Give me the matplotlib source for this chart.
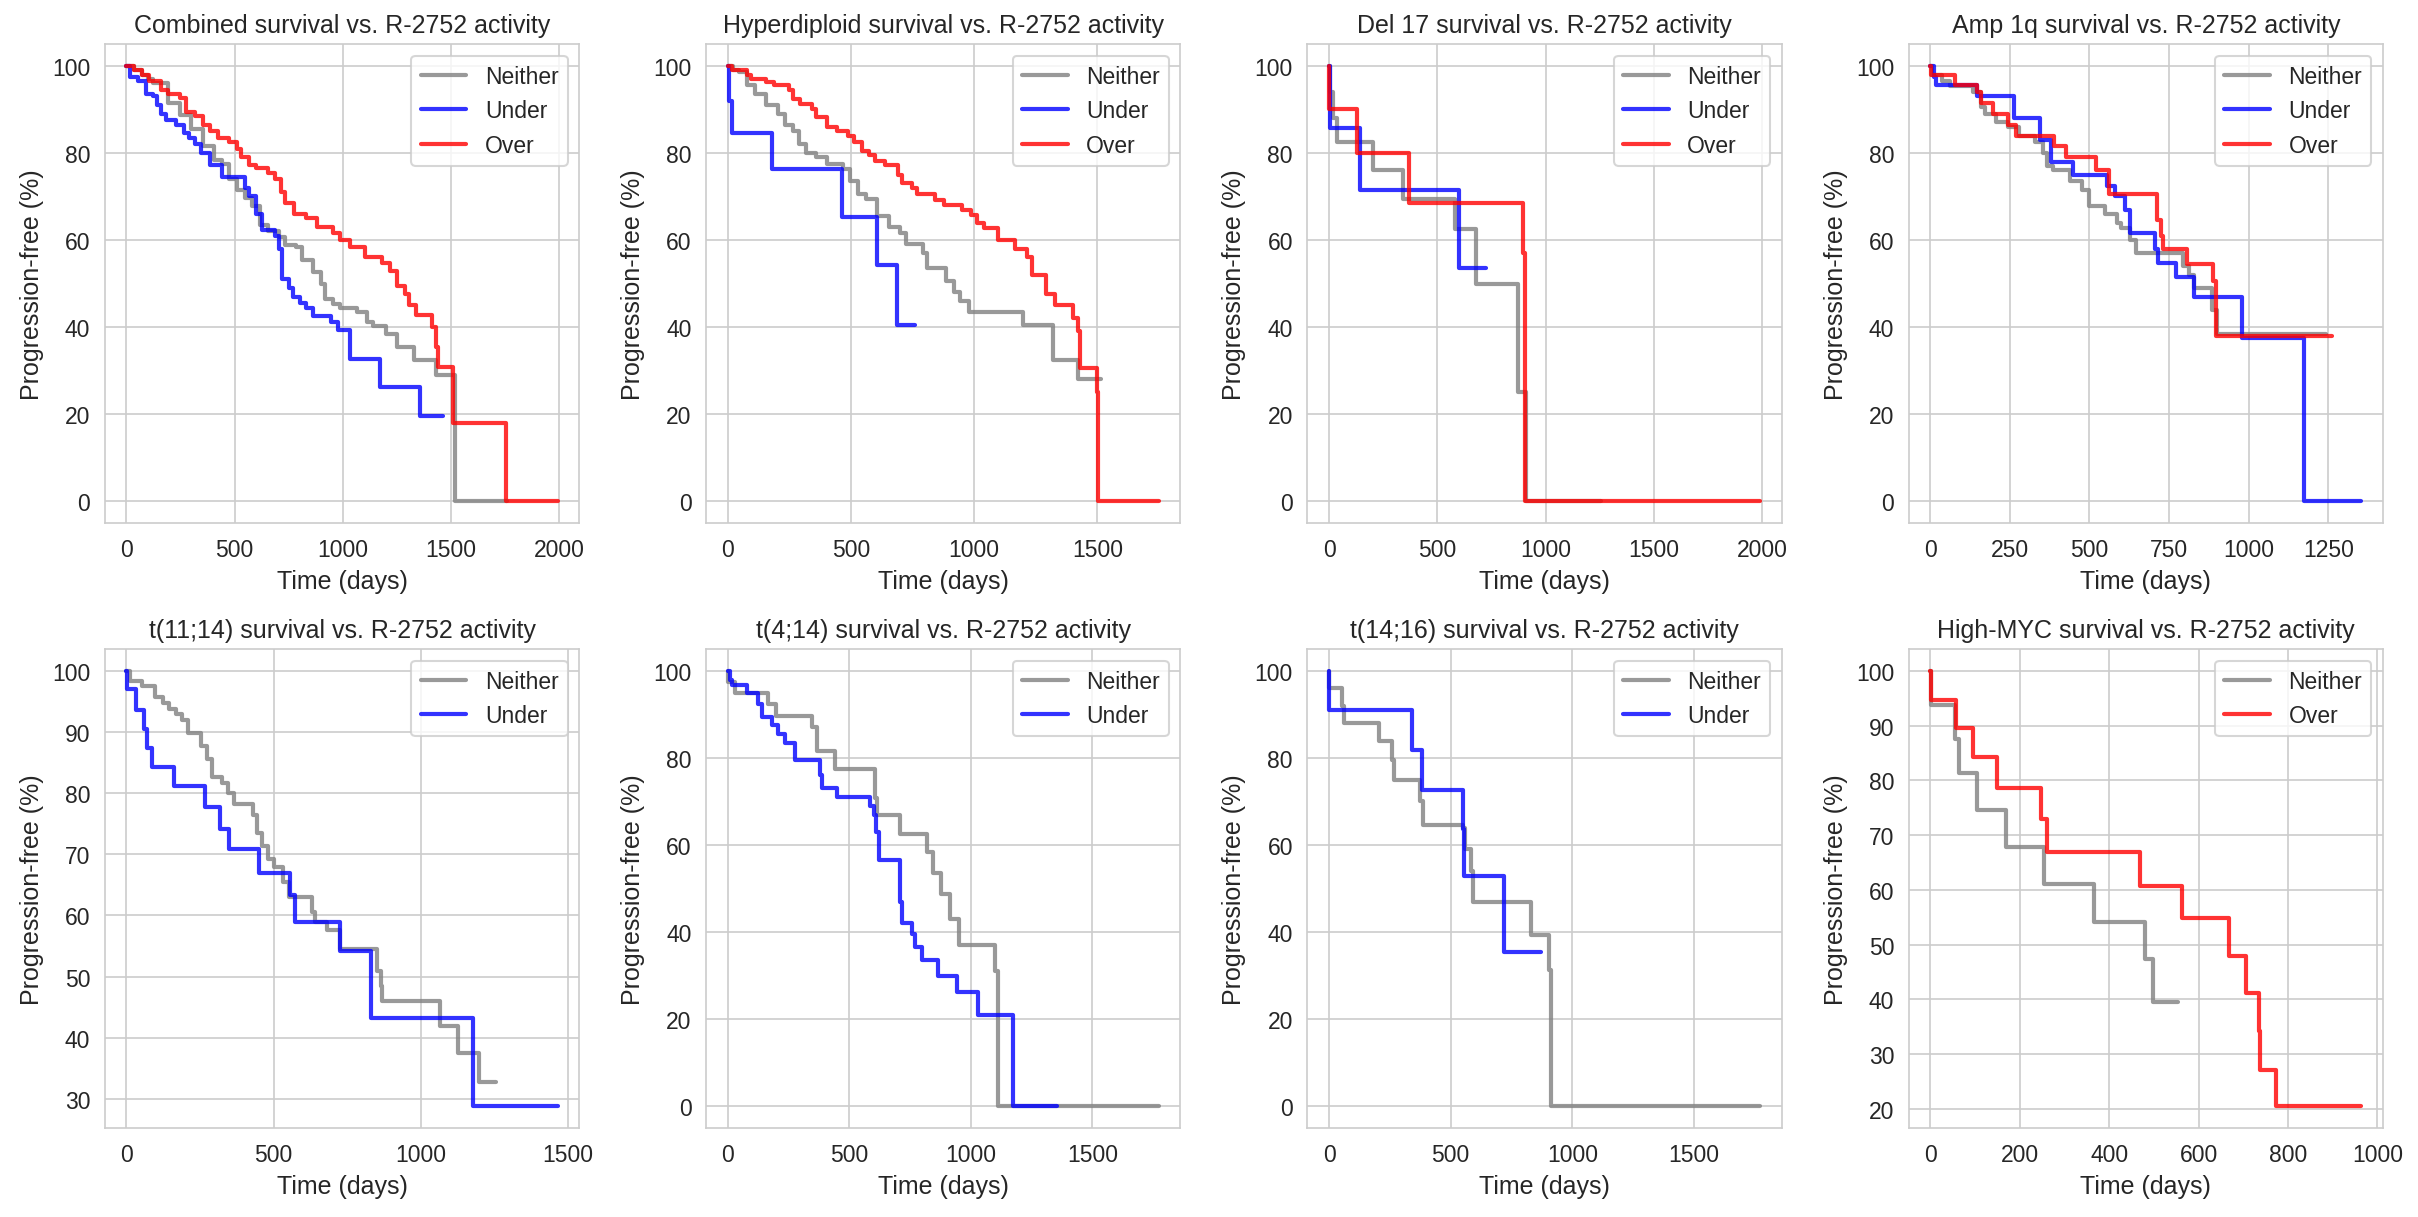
import matplotlib
matplotlib.use("Agg")
import matplotlib.pyplot as plt
import seaborn as sns

# Kaplan-Meier step points (time in days, % progression-free)
comb_neither_t = [0, 35, 71, 100, 124, 194, 247, 300, 353, 406, 441, 476, 512, 547, 582, 618, 653, 706, 732, 785, 812, 865, 900, 918, 953, 988, 1068, 1112, 1138, 1200, 1253, 1332, 1430, 1518, 1760]
comb_neither_s = [100, 99, 98, 97, 96, 91.5, 88.8, 85.5, 81.5, 78.4, 77.5, 74, 71.4, 69.6, 67.8, 63.4, 62, 60.6, 58.8, 58.4, 55.3, 52.6, 50, 46.5, 45.2, 44.3, 43.4, 41.2, 40.3, 38.5, 35.5, 32.4, 29, 0, 0]
comb_under_t = [0, 18, 53, 88, 124, 141, 159, 185, 229, 265, 291, 318, 344, 388, 441, 547, 565, 600, 627, 688, 706, 720, 750, 768, 803, 830, 865, 944, 980, 1033, 1174, 1359, 1465]
comb_under_s = [100, 97.5, 96.5, 93.5, 93, 91, 89, 87.5, 86.5, 84.5, 83.5, 82, 80, 77.2, 74.5, 72, 70, 66, 62.2, 61, 58, 51, 49, 47, 45.5, 44.3, 42.5, 41.2, 39.3, 32.6, 26.3, 19.6, 19.6]
comb_over_t = [0, 35, 71, 106, 159, 194, 247, 274, 318, 353, 388, 424, 476, 512, 530, 565, 600, 653, 688, 715, 732, 777, 830, 883, 953, 988, 1033, 1104, 1183, 1218, 1253, 1288, 1306, 1341, 1412, 1430, 1439, 1509, 1756, 1994]
comb_over_s = [100, 99, 98, 96.5, 94.5, 93.5, 92.5, 89.5, 88.5, 86.5, 85, 83.5, 82.5, 81, 79, 77.2, 76.5, 75.5, 74, 71, 68.5, 66, 65, 63, 61.5, 60, 58.5, 56, 54.8, 53, 49.5, 47.5, 45, 42.8, 40, 35.5, 30.8, 18, 0, 0]

hyp_neither_t = [0, 20, 47, 78, 109, 155, 202, 233, 264, 288, 319, 358, 404, 466, 498, 529, 560, 607, 653, 700, 723, 793, 809, 886, 917, 941, 980, 1198, 1322, 1423, 1516]
hyp_neither_s = [100, 99, 98.5, 95.5, 93.5, 91, 89, 86.5, 85, 82, 80, 79, 77.5, 76.3, 73.5, 70.5, 69.5, 65.5, 63, 61.5, 59, 57, 53.5, 50.5, 48, 46, 43.5, 40.5, 32.5, 28, 28]
hyp_under_t = [0, 3, 16, 179, 462, 607, 688, 762]
hyp_under_s = [100, 92, 84.5, 76.2, 65.3, 54.3, 40.6, 40.6]
hyp_over_t = [0, 16, 78, 93, 155, 187, 249, 264, 295, 342, 358, 404, 443, 490, 513, 544, 575, 599, 638, 692, 708, 747, 770, 840, 879, 949, 988, 1011, 1042, 1096, 1166, 1213, 1236, 1291, 1330, 1400, 1423, 1431, 1498, 1502, 1750]
hyp_over_s = [100, 99, 98, 97, 96.3, 95.5, 94.5, 92.3, 91.3, 90, 88.2, 86, 85, 84, 82.5, 80.5, 79.5, 78.2, 77.2, 75, 73, 72, 70.5, 69.3, 68, 67, 65.7, 64, 62.8, 60, 58, 56, 52, 47.5, 45, 42, 39, 30.5, 25, 0, 0]

del_neither_t = [0, 5, 18, 35, 204, 341, 580, 676, 872, 907, 1255]
del_neither_s = [100, 94, 88, 82.5, 76, 69.5, 62.5, 50, 25, 0, 0]
del_under_t = [0, 3, 141, 601, 725]
del_under_s = [100, 85.7, 71.4, 53.6, 53.6]
del_over_t = [0, 2, 127, 368, 893, 902, 1989]
del_over_s = [100, 90, 80, 68.6, 57, 0, 0]

amp_neither_t = [0, 6, 37, 61, 134, 159, 171, 207, 244, 280, 329, 354, 366, 384, 439, 476, 500, 549, 585, 598, 628, 646, 793, 811, 829, 884, 902, 1244]
amp_neither_s = [100, 98, 96.5, 95.3, 94, 90.5, 89, 87, 86, 84, 82.5, 80, 77, 76, 73.5, 71.5, 67.8, 66, 64, 62.8, 60, 57, 54, 52, 49, 44, 38.5, 38.5]
amp_under_t = [0, 12, 18, 146, 262, 344, 378, 449, 555, 579, 610, 626, 707, 716, 772, 829, 979, 1173, 1354]
amp_under_s = [100, 97.5, 95.5, 93, 88, 83, 78, 75, 72.5, 70, 67, 61.5, 58, 54.8, 51.5, 47, 37.5, 0, 0]
amp_over_t = [0, 2, 79, 146, 159, 198, 244, 268, 388, 427, 522, 561, 713, 726, 732, 805, 888, 898, 1262]
amp_over_s = [100, 98, 95.5, 94, 91.5, 89, 86.5, 84, 81.5, 79, 76, 70.5, 64.5, 61, 58, 54.5, 50.5, 38, 38]

t1114_neither_t = [0, 13, 52, 97, 123, 143, 169, 188, 208, 253, 273, 290, 325, 344, 364, 429, 442, 461, 480, 500, 532, 552, 630, 639, 682, 727, 851, 864, 870, 1065, 1126, 1197, 1256]
t1114_neither_s = [100, 98.3, 97.5, 95.8, 94.8, 93.8, 92.9, 91.9, 89.8, 87.7, 85.6, 82.6, 81.6, 80, 78.3, 76.5, 73.5, 71.3, 69.2, 68, 65.4, 63, 60.6, 59, 57.6, 54.6, 51, 48.5, 46, 42, 37.5, 32.7, 32.7]
t1114_under_t = [0, 1, 32, 58, 71, 87, 162, 266, 318, 347, 452, 555, 574, 727, 831, 1179, 1465]
t1114_under_s = [100, 97, 93.6, 90.5, 87.4, 84.3, 81.2, 77.8, 74.1, 70.8, 67, 63.3, 59, 54.2, 43.3, 28.8, 28.8]

t414_neither_t = [0, 2, 31, 165, 197, 347, 366, 441, 607, 615, 709, 820, 843, 878, 914, 950, 1098, 1111, 1773]
t414_neither_s = [100, 97.5, 95, 92.5, 89.6, 87, 81.5, 77.5, 70.8, 67, 62.6, 58.5, 53.5, 48.8, 43, 37, 31, 0, 0]
t414_under_t = [0, 8, 16, 79, 126, 142, 181, 205, 236, 276, 378, 386, 449, 583, 602, 610, 622, 709, 717, 756, 772, 800, 866, 942, 1029, 1174, 1355]
t414_under_s = [100, 98, 96.8, 95, 92.5, 89.5, 87.5, 85.5, 83.5, 79.5, 76, 73.2, 71, 69, 66.8, 63, 56.5, 47, 42, 39.5, 36.5, 33.5, 30, 26.2, 21, 0, 0]

t1416_neither_t = [0, 1, 52, 63, 205, 260, 268, 372, 386, 551, 559, 583, 591, 830, 906, 913, 1772]
t1416_neither_s = [100, 96, 92, 88, 84, 79.5, 75, 70, 64.6, 64, 59.2, 54, 47, 39.3, 31.4, 0, 0]
t1416_under_t = [0, 1, 339, 381, 551, 554, 721, 871]
t1416_under_s = [100, 91, 81.8, 72.7, 63.6, 53, 35.4, 35.4]

myc_neither_t = [0, 1, 56, 65, 104, 169, 254, 367, 479, 497, 554]
myc_neither_s = [100, 93.8, 87.5, 81.3, 74.6, 67.8, 61, 54.2, 47.4, 39.5, 39.5]
myc_over_t = [0, 2, 58, 95, 150, 247, 260, 469, 562, 668, 707, 734, 738, 773, 964]
myc_over_s = [100, 94.7, 89.5, 84.2, 78.6, 73, 66.9, 60.8, 54.8, 47.9, 41.1, 34.2, 27.2, 20.5, 20.5]

panel_names = ["Combined", "Hyperdiploid", "Del 17", "Amp 1q",
               "t(11;14)", "t(4;14)", "t(14;16)", "High-MYC"]
panels = [
    [("Neither", comb_neither_t, comb_neither_s), ("Under", comb_under_t, comb_under_s), ("Over", comb_over_t, comb_over_s)],
    [("Neither", hyp_neither_t, hyp_neither_s), ("Under", hyp_under_t, hyp_under_s), ("Over", hyp_over_t, hyp_over_s)],
    [("Neither", del_neither_t, del_neither_s), ("Under", del_under_t, del_under_s), ("Over", del_over_t, del_over_s)],
    [("Neither", amp_neither_t, amp_neither_s), ("Under", amp_under_t, amp_under_s), ("Over", amp_over_t, amp_over_s)],
    [("Neither", t1114_neither_t, t1114_neither_s), ("Under", t1114_under_t, t1114_under_s)],
    [("Neither", t414_neither_t, t414_neither_s), ("Under", t414_under_t, t414_under_s)],
    [("Neither", t1416_neither_t, t1416_neither_s), ("Under", t1416_under_t, t1416_under_s)],
    [("Neither", myc_neither_t, myc_neither_s), ("Over", myc_over_t, myc_over_s)],
]
colors = {"Neither": "grey", "Under": "blue", "Over": "red"}

sns.set_style("whitegrid")
plt.rcParams["font.family"] = ["Liberation Sans", "DejaVu Sans"]

fig, axes = plt.subplots(2, 4, figsize=(16.12, 8.12), dpi=150)
fig.subplots_adjust(left=0.0434, right=0.9855, top=0.963, bottom=0.073,
                    wspace=0.268, hspace=0.263)

for ax, name, curves in zip(axes.flat, panel_names, panels):
    for label, t, s in curves:
        ax.plot(t, s, drawstyle="steps-post", color=colors[label],
                alpha=0.8, lw=2, label=label)
    ax.set_title(name + " survival vs. R-2752 activity", fontsize=12)
    ax.set_xlabel("Time (days)", fontsize=12)
    ax.set_ylabel("Progression-free (%)", fontsize=12)
    ax.tick_params(labelsize=11)
    ax.legend(loc="upper right", fontsize=11)

fig.savefig("out.png", dpi=150)
